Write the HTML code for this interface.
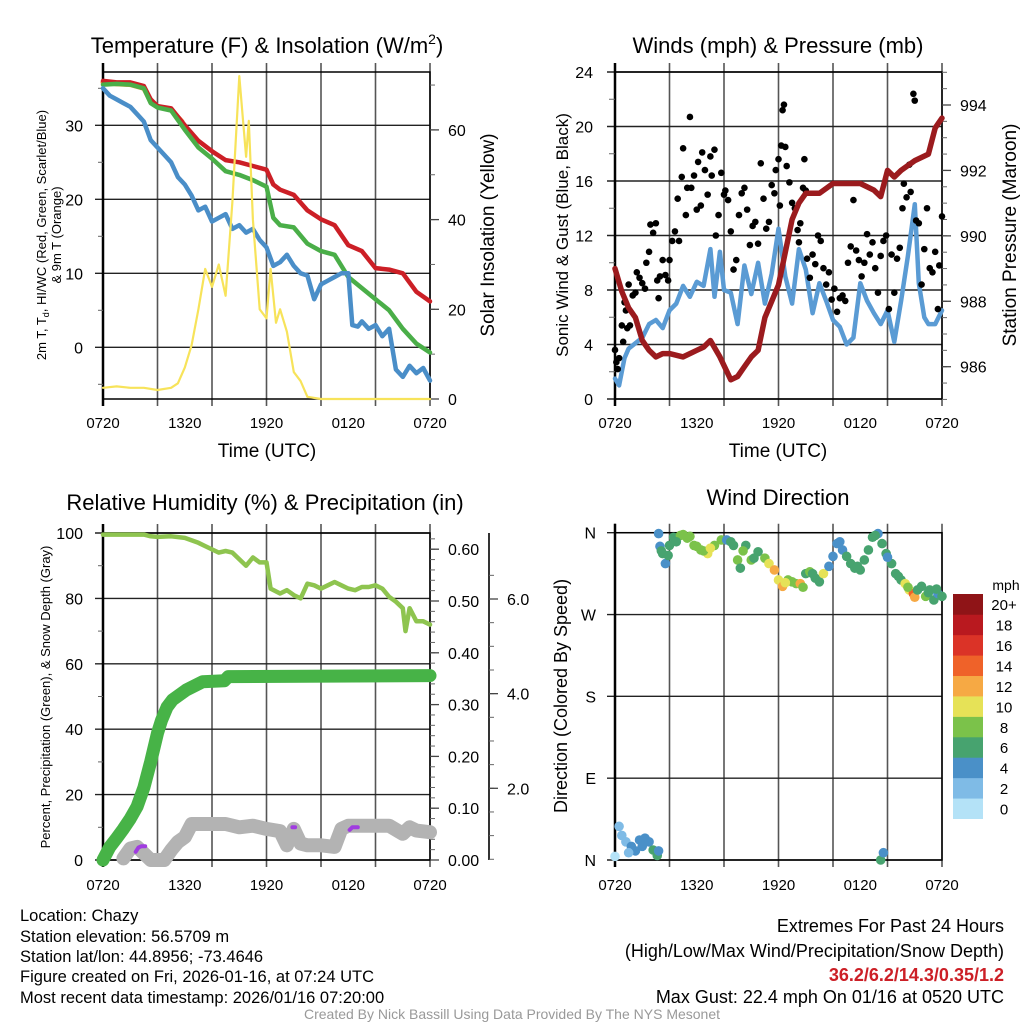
<!DOCTYPE html>
<html><head><meta charset="utf-8"><title>Chazy Meteogram</title>
<style>
html,body{margin:0;padding:0;background:#fff;}
svg{display:block;font-family:"Liberation Sans",Arial,sans-serif;}
</style></head>
<body>
<svg id="chart" width="1024" height="1024" viewBox="0 0 1024 1024">
<rect x="0" y="0" width="1024" height="1024" fill="#fff"/>
<text x="267" y="53" font-size="22" text-anchor="middle">Temperature (F) &amp; Insolation (W/m<tspan font-size="14" dy="-9">2</tspan><tspan dy="9">)</tspan></text>
<text x="778" y="53" font-size="22" text-anchor="middle">Winds (mph) &amp; Pressure (mb)</text>
<text x="265" y="510" font-size="22" text-anchor="middle">Relative Humidity (%) &amp; Precipitation (in)</text>
<text x="778" y="505" font-size="22" text-anchor="middle">Wind Direction</text>
<text x="267" y="457" font-size="19" text-anchor="middle">Time (UTC)</text>
<text x="778" y="457" font-size="19" text-anchor="middle">Time (UTC)</text>
<text transform="translate(46,235) rotate(-90)" font-size="13" text-anchor="middle">2m T, T<tspan font-size="9" dy="3">d</tspan><tspan dy="-3">, HI/WC (Red, Green, Scarlet/Blue)</tspan></text>
<text transform="translate(61,235) rotate(-90)" font-size="13" text-anchor="middle">&amp; 9m T (Orange)</text>
<text transform="translate(494,235) rotate(-90)" font-size="19" text-anchor="middle">Solar Insolation (Yellow)</text>
<text transform="translate(568,235) rotate(-90)" font-size="17" text-anchor="middle">Sonic Wind &amp; Gust (Blue, Black)</text>
<text transform="translate(1016,235) rotate(-90)" font-size="19" text-anchor="middle">Station Pressure (Maroon)</text>
<text transform="translate(50,697) rotate(-90)" font-size="13" text-anchor="middle">Percent, Precipitation (Green), &amp; Snow Depth (Gray)</text>
<text transform="translate(567,696) rotate(-90)" font-size="18" text-anchor="middle">Direction (Colored By Speed)</text>
<text x="1006" y="590" font-size="14" text-anchor="middle">mph</text>
<g font-size="16.5">
<text x="20" y="921">Location: Chazy</text>
<text x="20" y="942">Station elevation: 56.5709 m</text>
<text x="20" y="962">Station lat/lon: 44.8956; -73.4646</text>
<text x="20" y="982">Figure created on Fri, 2026-01-16, at 07:24 UTC</text>
<text x="20" y="1003">Most recent data timestamp: 2026/01/16 07:20:00</text>
</g>
<g font-size="18" text-anchor="end">
<text x="1004" y="932">Extremes For Past 24 Hours</text>
<text x="1004" y="957">(High/Low/Max Wind/Precipitation/Snow Depth)</text>
<text x="1004" y="981" fill="#cc1f26" font-weight="bold">36.2/6.2/14.3/0.35/1.2</text>
<text x="1004" y="1003">Max Gust: 22.4 mph On 01/16 at 0520 UTC</text>
</g>
<text x="512" y="1019" font-size="14" fill="#999" text-anchor="middle">Created By Nick Bassill Using Data Provided By The NYS Mesonet</text>
</svg>
<script>
// ---------- DATA ----------
const xTickLabels = ['0720','1320','1920','0120','0720'];
const tHours = [0,1,2,3,3.5,4,5,6,7,8,9,10,11,12,12.5,13,14,15,16,17,18,19,20,21,22,23,24];
const tRed = [36,35.8,35.8,35.3,33.5,32.6,32.3,30,27.9,26.5,25.3,25.0,24.5,24.0,22,21.3,20.6,18.5,17.3,16.5,13.8,13.0,10.7,10.5,10.0,7.5,6.2];
const tGreen = [35.5,35.6,35.5,35,33,32.4,32,29.4,27,25.5,23.8,23.3,22.6,21.7,17.5,16.5,16.2,14,13,12.5,9.5,8,6.5,5,2.5,0.5,-0.7];
const oHours = [0,1,2,3,3.5,4,5,5.8];
const oVals = [35.8,35.6,35.5,35,33.2,32.5,32.1,30.5];
const bHours = [0,0.5,1,1.5,2,2.5,3,3.5,4,4.5,5,5.5,6,6.5,7,7.5,8,8.5,9,9.5,10,10.5,11,11.5,12,12.5,13,13.5,14,14.5,15,15.5,16,16.5,17,17.5,18,18.3,18.7,19,19.5,20,20.5,21,21.5,22,22.5,23,23.5,24];
const bVals = [35,34,33.5,33,32.5,31.5,30.5,28,27,26,25,23,22,20.5,18.5,19,17,17.5,18,16,16.5,15.5,16,14.5,13.5,11,11.5,12.5,11,10,9.7,6.5,8.5,9,9.5,10,10,3,2.8,3.5,2.5,3,1.5,2.5,-3,-4,-2.5,-3.5,-2.8,-4.5];
const tLeftTicks = [0,10,20,30];
const sHours = [0,1,2,3,4,5,5.5,6,6.5,7,7.5,8,8.5,9,9.5,10,10.5,10.7,11,11.5,12,12.3,12.7,13,13.5,14,14.5,15,16,24];
const sVals = [2.5,2.8,2.5,2.5,2,2.5,3.5,7,12,20,29,25,30,23,44,72,54,62,40,20,18,29,17,20,15,6,4,0.5,0,0];
const sTicks = [0,20,40,60];

const wHours = [0,0.3,0.7,1,2,2.5,3,3.5,4,4.5,5,5.5,6,6.5,7,7.3,7.7,8,8.5,9,9.5,10,10.5,11,11.5,12,12.5,13,13.5,14,14.5,15,15.5,16,16.5,17,17.5,18,18.5,19,19.5,20,20.5,21,21.5,22,22.3,22.7,23,23.5,24];
const wVals = [1.5,1.0,3.0,3.7,4.5,5.5,5.8,5.2,6.5,7.0,8.3,7.5,8.6,8.3,11,7.5,10.8,8,7.8,5.5,9.8,7.7,10,7,9.2,12.5,9,7,11,9.5,6.3,8.5,7.2,5.8,5.3,4.0,4.5,8.5,7.2,6.3,5.5,6.5,4.2,7.2,10.5,14.3,8.5,6,5.5,5.5,6.5];
const pHours = [0,0.5,1,1.5,2,2.5,3,3.5,4,5,6,6.5,7,7.7,8.5,9,9.5,10,10.5,11,11.5,12,12.5,13,13.5,14,15,16,17,18,19,19.5,20,20.5,21,22,23,23.5,24];
const pVals = [989.0,988.3,987.8,987.5,986.8,986.5,986.3,986.4,986.4,986.3,986.5,986.6,986.8,986.3,985.6,985.7,986.0,986.3,986.5,987.5,988.0,988.5,989.5,990.5,991.0,991.3,991.3,991.6,991.6,991.6,991.4,991.2,992.0,991.8,992.0,992.3,992.5,993.3,993.6];
const gHours = [0.0,0.1,0.2,0.3,0.5,0.6,0.7,0.8,0.9,1.0,1.1,1.3,1.5,1.6,1.8,2.0,2.2,2.3,2.5,2.6,2.8,3.0,3.1,3.2,3.3,3.5,3.7,3.9,4.0,4.2,4.4,4.6,4.7,4.9,5.0,5.2,5.3,5.5,5.6,5.8,6.0,6.1,6.3,6.4,6.6,6.8,7.0,7.1,7.3,7.4,7.6,7.8,8.0,8.1,8.3,8.5,8.7,8.9,9.1,9.3,9.5,9.7,9.9,10.1,10.3,10.5,10.7,10.9,11.1,11.3,11.5,11.7,11.8,12.0,12.1,12.2,12.3,12.4,12.5,12.6,12.8,13.0,13.2,13.4,13.5,13.6,13.8,13.9,14.0,14.1,14.3,14.5,14.7,14.9,15.1,15.3,15.5,15.7,15.9,16.1,16.3,16.5,16.7,16.9,17.1,17.3,17.5,17.7,17.9,18.1,18.3,18.5,18.7,18.9,19.1,19.3,19.5,19.7,19.9,20.1,20.3,20.5,20.7,20.9,21.1,21.2,21.4,21.6,21.7,21.9,22.0,22.1,22.3,22.5,22.7,22.9,23.1,23.3,23.5,23.7,23.8,24.0];
const gVals = [3.6,2.7,2.2,3.0,5.4,4.2,7.1,6.5,5.2,8.4,5.4,7.6,7.8,9.3,8.9,8.5,8.1,10.0,10.8,12.8,12.2,12.9,8.7,7.4,9.0,10.2,9.1,8.7,10.2,11.6,12.3,14.7,11.6,16.3,18.4,13.5,15.5,20.7,15.5,16.4,13.9,17.4,14.2,18.1,16.8,15.0,17.8,16.4,18.3,12.0,13.5,16.6,15.0,15.3,14.6,12.3,9.5,10.2,13.5,15.1,15.5,13.9,11.3,12.7,13.0,11.4,17.3,14.7,12.5,13.0,15.7,15.1,16.8,17.6,14.2,18.6,21.2,21.6,18.5,17.1,15.9,14.4,14.0,12.4,11.5,12.9,15.5,17.6,15.3,10.3,8.9,10.6,9.9,12.0,11.6,9.6,8.4,9.3,7.3,8.1,6.4,7.4,7.6,7.2,10.0,11.2,14.6,10.9,10.2,9.0,10.0,12.1,10.6,11.5,9.6,7.8,10.5,11.6,12.0,6.6,10.6,7.8,10.3,11.1,14.0,15.8,14.8,17.2,15.2,22.4,21.9,13.1,12.9,8.4,11.0,14.0,9.6,9.3,10.8,6.6,9.8,13.4];
const wTicks = [0,4,8,12,16,20,24];
const pTicks = [986,988,990,992,994];

const rhHours = [0,3,3.5,4,5,6,7,7.5,8,8.5,9,9.5,10,10.5,11,11.5,12,12.3,13,13.5,14,14.5,15,15.5,16,16.5,17,17.5,18,18.5,19,19.5,20,20.5,21,21.5,22,22.2,22.5,23,23.5,24];
const rhVals = [99.5,99.5,99,98.8,99,98.5,97,96,95,94,94.5,94,92,90,92.5,91,91,83,81.5,82.5,81,80,84.5,84,83,84,85,84,83,82.5,83.5,83.5,84,83,80.5,79,77,70,77,73,73,72];
const prHours = [0,0.5,1,1.5,2,2.5,3,3.5,4,4.3,4.7,5.1,6.1,7.3,8.9,9.2,24];
const prVals = [0,0.025,0.042,0.06,0.08,0.103,0.14,0.19,0.245,0.27,0.295,0.309,0.328,0.344,0.346,0.354,0.356];
const snHours = [1.5,2,2.5,3,3.5,4,4.5,5,5.5,6,6.5,7,9,10,11,12,13,13.5,14,14.5,15,16,17,17.5,18,21,22,22.5,23,24];
const snVals = [0.5,3.5,4,2,0,0,0,3,5.5,7,11,11,11,10,10.5,9.5,8.8,4.5,9.5,5,4.5,4.5,4,9.5,10.5,10.5,8,10,9,8.5];
const puHoursA = [2.4,2.6,2.8,3.1];
const puValsA = [2.5,3.8,4.2,4.2];
const puHoursB = [13.9,14.1];
const puValsB = [10,10];
const puHoursC = [18.1,18.3,18.7];
const puValsC = [9.2,10,10];
const rhTicks = [0,20,40,60,80,100];
const prTicks = [0,0.1,0.2,0.3,0.4,0.5,0.6];
const prTickLabels = ['0.00','0.10','0.20','0.30','0.40','0.50','0.60'];
const snTicks = [2,4,6];
const snTickLabels = ['2.0','4.0','6.0'];

const dHours = [3.2,3.3,3.5,3.7,3.9,4.0,4.3,4.8,5.3,5.8,6.3,6.8,7.3,7.8,8.2,8.7,9.0,9.2,9.6,10.0,10.5,11.0,11.3,11.7,12.0,12.3,12.7,13.0,13.3,13.6,14.0,14.3,14.7,15.0,15.3,15.7,16.0,16.3,16.7,17.0,17.3,17.6,18.0,18.3,18.6,18.9,19.3,19.6,19.9,20.3,20.6,21.0,21.3,21.6,21.9,22.0,22.2,22.5,22.8,23.1,23.4,23.7,24.0,3.4,4.5,5.0,5.5,6.0,6.5,7.0,8.5,9.4,10.2,12.5,13.8,14.5,16.5,17.8,19.1,20.0,20.8,21.5,23.0,23.6,0,0.3,0.5,0.8,1.2,1.5,1.8,2.2,2.5,2.8,3.1,3.2,1.0,2.0,19.5,19.7];
const dDeg = [359,345,337,326,335,346,355,357,354,346,341,337,346,352,352,346,330,321,346,330,339,332,326,319,308,301,308,306,304,304,315,317,310,306,315,323,334,348,341,334,326,321,319,330,341,355,359,348,337,326,315,308,304,297,293,289,297,301,290,297,286,293,290,340,350,358,356,345,340,343,350,340,332,305,300,315,350,323,357,333,312,300,294,298,4,37,27,20,15,10,22,24,20,11,5,10,8,15,0,8];
const dSpd = [4,4,6,4,6,6,7,8,8,8,9,10,9,8,4,7,9,7,7,8,7,8,10,12,10,12,8,8,9,12,7,8,7,6,10,5,4,4,4,6,6,7,7,6,6,6,4,6,6,6,6,6,10,10,15,12,7,7,8,6,6,4,6,6,6,8,8,8,9,10,6,8,7,10,8,7,4,6,6,5,6,9,6,6,1,2,2,3,4,4,4,4,4,6,6,4,2,4,6,4];
const dirTicks = [0,90,180,270,360];
const dirTickLabels = ['N','E','S','W','N'];
const cbLabels = ['0','2','4','6','8','10','12','14','16','18','20+'];
const cbColors = ['#b4e2f7','#7fbbe6','#4a90c8','#47a36f','#7bc24a','#e6e257','#f6a944','#ef6229','#db3327','#b9191f','#8f1417'];

// ---------- HELPERS ----------
const NS = 'http://www.w3.org/2000/svg';
const svg = document.getElementById('chart');
function mk(tag, attrs, parent){const e=document.createElementNS(NS,tag);for(const k in attrs)e.setAttribute(k,attrs[k]);(parent||svg).appendChild(e);return e;}
function lin(d0,d1,r0,r1){return v=>r0+(v-d0)*(r1-r0)/(d1-d0);}
function pathD(xs,ys,fx,fy){return xs.map((x,i)=>(i?'L':'M')+fx(x).toFixed(1)+','+fy(ys[i]).toFixed(1)).join('');}

function panel(P, prefix){
  const g = mk('g',{});
  
  
  for(let h=0;h<=24;h+=4){
    const l = mk('line',{x1:P.fx(h),x2:P.fx(h),y1:P.y0-9,y2:P.y1+7,stroke:'#555','stroke-width':1.6},g);
    
    
  }
  xTickLabels.forEach((t,i)=>{
    const tx = mk('text',{x:P.fx(i*6),y:P.y1+(P.xlab||29),'font-size':15,'text-anchor':'middle'},g);
    tx.textContent = t;
    
    
  });
  P.lt.forEach((v,i)=>{
    const y = P.fy(v);
    const l = mk('line',{x1:P.x0-8,x2:P.x1,y1:y,y2:y,stroke:'#222','stroke-width':1.4},g);
    
    
    const tx = mk('text',{x:P.x0-(P.lgap||20),y:y+6,'font-size':P.lfs||16,'text-anchor':'end'},g);
    tx.textContent = P.ll ? P.ll[i] : String(v);
    
    
  });
  const fr = mk('rect',{x:P.x0,y:P.y0,width:P.x1-P.x0,height:P.y1-P.y0,fill:'none',stroke:'#000','stroke-width':1.5},g);
  
  
  const la = mk('line',{x1:P.x0,x2:P.x0,y1:P.y0-9,y2:P.y1+7,stroke:'#000','stroke-width':2.5},g);
  
  
  return g;
}
function rightAxis(ax, fy, ticks, labels, minors, prefix, fs){
  const g = mk('g',{});
  
  
  minors.forEach(v=>{
    const l = mk('line',{x1:ax,x2:ax+5,y1:fy(v),y2:fy(v),stroke:'#666','stroke-width':1},g);
    
    
  });
  ticks.forEach((v,i)=>{
    const l = mk('line',{x1:ax,x2:ax+9,y1:fy(v),y2:fy(v),stroke:'#444','stroke-width':1.3},g);
    
    
    const tx = mk('text',{x:ax+18,y:fy(v)+6,'font-size':fs||16},g);
    tx.textContent = labels ? labels[i] : String(v);
    
    
  });
}
function line(xs,ys,fx,fy,color,w,name){
  const p = mk('path',{d:pathD(xs,ys,fx,fy),fill:'none',stroke:color,'stroke-width':w,'stroke-linejoin':'round','stroke-linecap':'round'});
  
  
  return p;
}
function range(a,b,s){const r=[];for(let v=a;v<=b+1e-9;v+=s)r.push(+v.toFixed(3));return r;}

// ---------- PANEL 1: TEMPERATURE ----------
const P1 = {x0:103,x1:430,y0:72,y1:399,fx:lin(0,24,103,430),fy:lin(0,10,347.3,273.3),lt:tLeftTicks};
panel(P1,'temp');
const fs1 = lin(0,20,399,309.3);
rightAxis(430, fs1, sTicks, null, range(0,70,10), 'insolation');
range(-5,35,5).forEach(v=>{ if(v%10){const l=mk('line',{x1:98,x2:103,y1:P1.fy(v),y2:P1.fy(v),stroke:'#666'});  }});
line(oHours,oVals,P1.fx,P1.fy,'#f39c3a',5,'temp-9m-line');
line(tHours,tRed,P1.fx,P1.fy,'#cc1f26',4.5,'temp-2m-line');
line(tHours,tGreen,P1.fx,P1.fy,'#4aae48',4.5,'dewpoint-line');
line(bHours,bVals,P1.fx,P1.fy,'#4a8ec8',4.5,'windchill-line');
line(sHours,sVals,P1.fx,fs1,'#f7e35a',2.2,'insolation-line');

// ---------- PANEL 2: WIND ----------
const P2 = {x0:615,x1:942,y0:72,y1:399,fx:lin(0,24,615,942),fy:lin(0,24,399,72),lt:wTicks,lgap:22};
panel(P2,'wind');
const fp2 = lin(986,994,366.7,105);
rightAxis(942, fp2, pTicks, null, range(985,995,0.5), 'pressure');
range(2,22,4).forEach(v=>{const l=mk('line',{x1:609,x2:615,y1:P2.fy(v),y2:P2.fy(v),stroke:'#666'});  });
line(wHours,wVals,P2.fx,P2.fy,'#5a9bd4',4.5,'sonic-wind-line');
gHours.forEach((h,i)=>{
  const c = mk('circle',{cx:P2.fx(h),cy:P2.fy(gVals[i]),r:3.3,fill:'#000'});
  
  
});
line(pHours,pVals,P2.fx,fp2,'#9b1b1e',5.5,'pressure-line');

// ---------- PANEL 3: RH / PRECIP ----------
const P3 = {x0:103,x1:430,y0:533,y1:860,fx:lin(0,24,103,430),fy:lin(0,100,860,533),lt:rhTicks,xlab:30};
panel(P3,'rh');
const fpr = lin(0,0.1,860,808.2);
rightAxis(430, fpr, prTicks, prTickLabels, range(0,0.62,0.02), 'precip');
const fsn = lin(2,6,788.3,599);
const snAx = mk('line',{x1:489,x2:489,y1:533,y2:860,stroke:'#000','stroke-width':1.6});


rightAxis(489, fsn, snTicks, snTickLabels, range(0.5,6.5,0.5), 'snow-depth');
range(10,90,20).forEach(v=>{const l=mk('line',{x1:98,x2:103,y1:P3.fy(v),y2:P3.fy(v),stroke:'#666'});  });
line(snHours,snVals,P3.fx,P3.fy,'#b3b3b3',14,'snow-depth-line');
line(puHoursA,puValsA,P3.fx,P3.fy,'#a03ce0',4,'snowfall-marker-a');
line(puHoursB,puValsB,P3.fx,P3.fy,'#a03ce0',4,'snowfall-marker-b');
line(puHoursC,puValsC,P3.fx,P3.fy,'#a03ce0',4,'snowfall-marker-c');
line(prHours,prVals,P3.fx,fpr,'#47b347',13,'precip-line');
line(rhHours,rhVals,P3.fx,P3.fy,'#8ec44f',4.5,'rh-line');

// ---------- PANEL 4: DIRECTION ----------
const P4 = {x0:615,x1:942,y0:532.7,y1:860,fx:lin(0,24,615,942),fy:lin(0,360,860,532.7),lt:dirTicks,ll:dirTickLabels,xlab:30,lgap:19};
panel(P4,'direction');
dHours.forEach((h,i)=>{
  const idx = Math.min(10,Math.max(0,Math.floor(dSpd[i]/2)));
  const c = mk('circle',{cx:P4.fx(h),cy:P4.fy(dDeg[i]),r:4.8,fill:cbColors[idx]});
  
  
});
const cbG = mk('g',{});


const cbH = (818.7-594)/cbColors.length;
cbColors.forEach((col,i)=>{
  const y = 818.7-(i+1)*cbH;
  const r = mk('rect',{x:953,y:y,width:30,height:cbH+0.3,fill:col},cbG);
  
  
  const t = mk('text',{x:1004,y:y+cbH/2+6,'font-size':15,'text-anchor':'middle'},cbG);
  t.textContent = cbLabels[i];
  
  
});
</script>
</body></html>
